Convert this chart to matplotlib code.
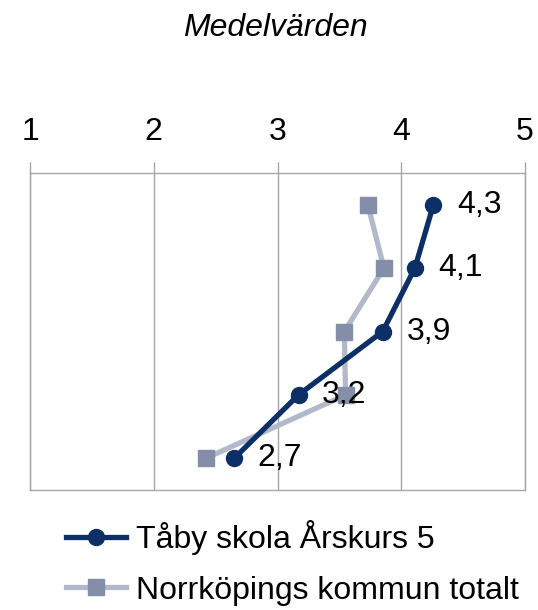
import numpy as np
import matplotlib
import matplotlib.pyplot as plt
from matplotlib import rcParams

matplotlib.rc("font", family=['Liberation Sans', 'DejaVu Sans'])

# data
rows = [0, 1, 2, 3, 4]
taby = [4.26, 4.11, 3.85, 3.17, 2.65]
taby_labels = ['4,3', '4,1', '3,9', '3,2', '2,7']
norrk = [3.73, 3.86, 3.54, 3.55, 2.42]
xticks = [1, 2, 3, 4, 5]

navy = '#0C2F66'
gray_line = '#B3B9CB'
gray_mark = '#858EA8'
frame = '#A6A6A6'

fig = plt.figure(figsize=(5.38, 6.10), dpi=100)
ax = fig.add_axes([30/538, 1-490/610, 495/538, 317/610])

ax.plot(norrk, rows, color=gray_line, linewidth=3.8, marker='s', markersize=11,
        markerfacecolor=gray_mark, markeredgecolor=gray_mark, label='Norrköpings kommun totalt',
        zorder=3)
ax.plot(taby, rows, color=navy, linewidth=3.8, marker='o', markersize=11.5,
        markerfacecolor=navy, markeredgecolor=navy, label='Tåby skola Årskurs 5', zorder=4)

for xv, yv, t in zip(taby, rows, taby_labels):
    ax.annotate(t, (xv, yv), xytext=(17, 0), textcoords='offset points',
                ha='left', va='center', fontsize=23, color='black', zorder=5)

ax.set_xlim(1, 5)
ax.set_ylim(4.5, -0.5)
ax.set_xticks(xticks)
ax.set_xticklabels([str(v) for v in xticks], fontsize=23)
ax.set_yticks([])
ax.xaxis.set_ticks_position('top')
ax.tick_params(axis='x', direction='out', length=8, width=1, color=frame, pad=11)
ax.grid(axis='x', color=frame, linewidth=1)
for s in ax.spines.values():
    s.set_color(frame)
    s.set_linewidth(1)

fig.text(275/538, 1-28/610, 'Medelvärden', ha='center', va='center',
         fontsize=23, style='italic')

h, l = ax.get_legend_handles_labels()
fig.legend(h[::-1], l[::-1], loc='upper left', bbox_to_anchor=(53/538, 1-507/610),
           frameon=False, fontsize=23, handlelength=1.9, handletextpad=0.3,
           labelspacing=0.65, borderaxespad=0)

plt.savefig('out.png', dpi=100)
